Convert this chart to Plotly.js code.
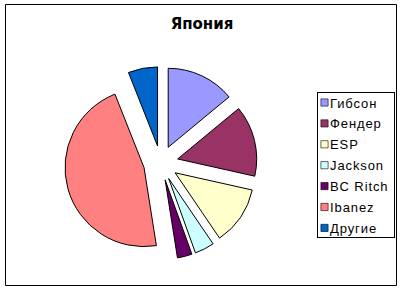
<!DOCTYPE html>
<html>
<head>
<meta charset="utf-8">
<script src="https://cdn.plot.ly/plotly-3.0.1.min.js"></script>
<style>html,body{margin:0;padding:0;background:#fff;}#chart{width:403px;height:291px;}</style>
</head>
<body>
<div id="chart"></div>
<script>
const chartTitle = "Япония";
const labels = ["Гибсон", "Фендер", "ESP", "Jackson", "BC Ritch", "Ibanez", "Другие"];
const values = [14, 14.5, 12, 4, 3, 46.5, 6];
const colors = ["#9999FF", "#993366", "#FFFFCC", "#CCFFFF", "#660066", "#FF8080", "#0066CC"];

const trace = {
  type: "pie",
  labels: labels,
  values: values,
  sort: false,
  direction: "clockwise",
  rotation: 0,
  pull: 0.22,
  textinfo: "none",
  hoverinfo: "label+percent",
  marker: {colors: colors, line: {color: "#000000", width: 1}},
  domain: {x: [0.158, 0.64], y: [0.1086, 0.771]}
};

const layout = {
  width: 403, height: 291,
  margin: {l: 0, r: 0, t: 0, b: 0},
  paper_bgcolor: "#ffffff",
  plot_bgcolor: "#ffffff",
  font: {family: "Liberation Sans, Arial, sans-serif", color: "#000000"},
  title: {
    text: chartTitle,
    font: {family: "DejaVu Sans", size: 15, weight: "bold", color: "#000000"},
    x: 202/403, xanchor: "center", xref: "paper",
    y: 1 - 24/291, yanchor: "middle", yref: "container"
  },
  showlegend: true,
  legend: {
    x: 394/403, xanchor: "right", y: 1 - 92/291, yanchor: "top",
    bgcolor: "#ffffff", bordercolor: "#000000", borderwidth: 1,
    font: {family: "Liberation Sans, Arial, sans-serif", size: 13, color: "#000000"},
    itemwidth: 30
  },
  shapes: [{
    type: "rect", xref: "paper", yref: "paper",
    x0: 5.5/403, x1: 396.5/403, y0: 1 - 285.5/291, y1: 1 - 4.5/291,
    line: {color: "#000000", width: 1}, fillcolor: "rgba(0,0,0,0)", layer: "below"
  }]
};

function getT(el) {
  const m = /translate\(\s*([-\d.e]+)[ ,]+([-\d.e]+)\s*\)/.exec(el.getAttribute("transform") || "");
  return m ? [parseFloat(m[1]), parseFloat(m[2])] : [0, 0];
}

Plotly.newPlot("chart", [trace], layout, {displayModeBar: false, staticPlot: true}).then(function (gd) {
  try {
    const leg = gd.querySelector("g.legend");
    if (!leg) return;
    // compact Excel-like legend box: left 317, top 92, 77 x 145
    leg.setAttribute("transform", "translate(317,92)");
    const bg = leg.querySelector("rect.bg");
    bg.setAttribute("width", 77);
    bg.setAttribute("height", 145);
    const sb = leg.querySelector("g.scrollbox");
    const sbT = sb ? getT(sb) : [0, 0];
    const items = leg.querySelectorAll("g.traces");
    items.forEach(function (g, i) {
      const yc = 10.5 + i * 20.9;
      g.setAttribute("transform", "translate(" + (0 - sbT[0]) + "," + (yc - sbT[1]) + ")");
      const txt = g.querySelector("text.legendtext");
      if (txt) {
        txt.setAttribute("x", 13);
        txt.style.letterSpacing = "0.9px";
      }
      const sym = g.querySelector("path.legendpie");
      if (sym) sym.setAttribute("transform", "translate(7.5,0) scale(0.6)");
    });
  } catch (e) { console.error(e); }
});
</script>
</body>
</html>
